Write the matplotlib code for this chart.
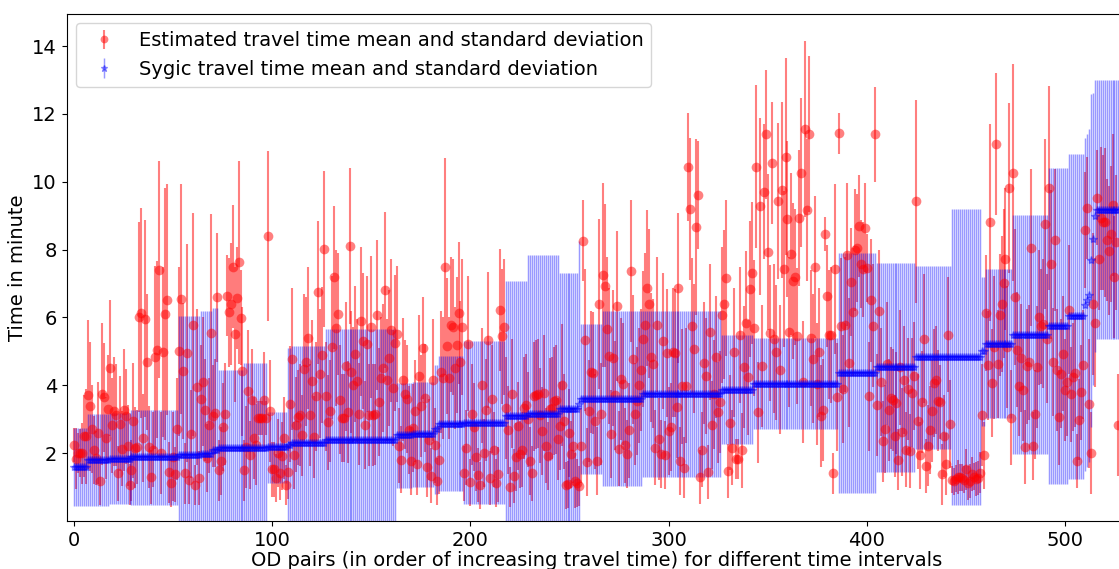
import numpy as np
import matplotlib
matplotlib.use("Agg")
import matplotlib.pyplot as plt

# estimated travel time per OD pair (mean, std)
est_mean = [
    2.25, 1.83, 2.0, 2.0, 2.0, 2.5, 2.5, 3.72, 3.38, 2.71,
    2.1, 1.86, 2.6, 1.17, 3.75, 3.64, 2.45, 3.3, 4.5, 2.82,
    3.23, 3.12, 1.4, 2.86, 2.13, 3.28, 3.09, 2.22, 1.07, 1.5,
    2.96, 2.16, 2.18, 6.0, 6.13, 2.45, 5.96, 4.68, 2.18, 1.3,
    2.1, 4.82, 5.05, 7.4, 2.0, 4.98, 6.1, 6.52, 1.44, 1.12,
    1.9, 1.37, 2.71, 5.0, 6.54, 4.43, 1.4, 4.95, 1.2, 2.56,
    5.79, 1.06, 3.94, 1.27, 3.6, 4.1, 3.26, 1.86, 2.82, 5.54,
    3.09, 3.18, 6.6, 1.5, 1.76, 2.77, 3.15, 6.64, 6.15, 6.4,
    7.5, 5.5, 6.57, 7.62, 5.99, 4.41, 1.5, 2.18, 3.82, 1.94,
    3.58, 2.45, 2.25, 3.04, 3.04, 3.04, 3.58, 3.04, 8.4, 3.24,
    1.52, 1.52, 1.27, 2.0, 1.42, 1.91, 2.45, 1.06, 1.44, 3.45,
    4.78, 1.93, 2.84, 3.06, 3.12, 2.52, 4.49, 4.7, 5.39, 3.12,
    4.12, 2.48, 3.67, 6.74, 4.34, 4.9, 8.01, 3.67, 2.91, 3.24,
    5.12, 7.18, 5.69, 6.1, 3.58, 3.04, 3.04, 4.56, 3.21, 8.11,
    4.38, 4.02, 4.92, 4.14, 3.15, 5.88, 5.3, 2.84, 5.22, 3.12,
    5.72, 3.12, 3.14, 6.07, 3.51, 4.22, 4.51, 6.8, 4.15, 4.8,
    5.62, 3.92, 5.25, 5.52, 2.22, 1.81, 4.17, 3.73, 3.6, 2.69,
    1.78, 2.75, 3.24, 1.68, 4.28, 3.38, 5.1, 3.62, 1.6, 2.4,
    1.34, 4.15, 2.23, 1.17, 1.79, 4.38, 4.22, 7.5, 5.15, 4.22,
    5.79, 5.72, 4.51, 5.18, 6.13, 4.69, 5.71, 1.4, 2.16, 5.23,
    1.14, 3.14, 2.76, 1.89, 1.35, 1.05, 4.0, 2.0, 3.28, 5.34,
    1.27, 3.6, 2.1, 1.12, 1.37, 6.22, 5.44, 5.71, 3.33, 2.69,
    1.0, 3.75, 1.32, 1.88, 2.81, 1.96, 2.1, 3.33, 3.43, 3.0,
    1.76, 1.4, 3.67, 3.72, 3.75, 3.12, 2.66, 3.77, 2.22, 1.91,
    3.3, 3.33, 3.53, 3.58, 2.42, 2.79, 4.02, 2.94, 1.05, 1.08,
    2.6, 1.96, 2.22, 1.19, 1.12, 1.03, 2.22, 8.26, 5.34, 1.73,
    3.24, 4.38, 4.36, 2.94, 1.76, 6.4, 3.15, 7.25, 6.94, 5.67,
    4.87, 2.57, 4.8, 3.7, 6.34, 2.13, 4.19, 4.05, 2.23, 1.98,
    2.67, 7.37, 4.76, 3.15, 3.53, 4.0, 4.44, 5.36, 5.79, 6.87,
    6.4, 4.82, 4.63, 2.16, 5.79, 2.42, 1.98, 5.3, 1.94, 4.95,
    2.65, 2.77, 4.97, 4.95, 3.35, 6.87, 1.78, 3.97, 1.57, 3.99,
    10.43, 9.2, 5.76, 5.08, 8.66, 9.61, 1.29, 2.1, 4.66, 4.27,
    1.45, 5.56, 2.82, 3.73, 4.83, 3.2, 3.5, 6.08, 6.39, 7.16,
    1.47, 2.89, 2.16, 4.97, 1.83, 1.83, 5.49, 2.08, 4.53, 5.85,
    4.23, 6.84, 7.31, 5.69, 10.44, 3.2, 9.27, 4.56, 9.71, 11.4,
    7.92, 5.54, 10.54, 5.37, 4.97, 9.43, 4.46, 9.76, 7.43, 10.74,
    8.89, 5.57, 7.87, 7.08, 7.2, 5.46, 8.92, 10.27, 4.09, 11.55,
    9.17, 11.4, 5.39, 4.78, 7.48, 4.04, 4.97, 3.09, 3.26, 8.46,
    6.62, 5.49, 5.49, 1.4, 7.42, 3.66, 11.43, 5.76, 3.89, 5.79,
    7.85, 4.66, 7.04, 6.16, 7.99, 8.04, 8.7, 7.58, 7.42, 8.65,
    7.45, 3.67, 6.5, 5.76, 11.4, 3.41, 6.2, 4.1, 2.35, 2.71,
    4.64, 3.26, 3.63, 3.56, 2.5, 3.48, 1.81, 4.53, 2.63, 4.15,
    2.1, 3.9, 2.06, 3.78, 4.27, 9.42, 2.94, 1.93, 3.51, 5.37,
    1.61, 2.22, 2.67, 3.24, 4.07, 4.15, 3.55, 3.51, 1.37, 2.5,
    1.68, 5.49, 2.86, 1.22, 1.17, 1.24, 1.3, 1.29, 1.27, 1.22,
    1.52, 1.12, 1.19, 1.39, 1.3, 1.24, 1.27, 1.42, 3.12, 1.93,
    6.13, 4.59, 8.8, 4.07, 5.12, 11.11, 4.63, 6.08, 6.39, 7.01,
    7.72, 5.12, 9.81, 3.04, 10.27, 6.6, 5.05, 3.99, 4.8, 3.87,
    2.18, 4.56, 4.68, 8.06, 2.22, 3.14, 4.53, 6.0, 5.74, 5.82,
    8.76, 5.37, 9.81, 7.57, 4.68, 8.28, 4.44, 3.06, 4.34, 4.93,
    3.87, 4.1, 6.23, 3.73, 4.24, 4.36, 1.76, 2.99, 3.8, 4.61,
    8.58, 9.22, 3.46, 2.0, 6.39, 5.85, 9.53, 7.72, 8.92, 8.8,
    8.8, 8.27, 7.96, 8.46, 9.32, 7.19, 8.21, 2.82,
]

est_std = [
    0.5, 0.9, 0.6, 0.7, 0.9, 1.2, 1.4, 2.2, 1.9, 1.3,
    1.0, 0.8, 1.5, 0.7, 2.1, 1.6, 1.2, 1.6, 2.0, 1.4,
    1.6, 1.5, 0.8, 1.4, 1.1, 1.8, 1.4, 1.2, 0.6, 0.9,
    1.7, 1.2, 1.1, 2.8, 3.1, 1.3, 2.9, 2.0, 1.2, 0.8,
    1.1, 2.7, 2.6, 3.2, 1.2, 2.5, 3.7, 3.4, 0.9, 0.7,
    1.3, 0.8, 1.5, 2.5, 3.4, 2.0, 0.9, 3.2, 0.7, 1.3,
    3.3, 0.6, 2.3, 0.8, 1.6, 1.9, 1.5, 1.0, 1.4, 3.5,
    1.5, 1.6, 1.9, 0.9, 1.0, 1.3, 1.5, 1.2, 1.6, 1.8,
    1.8, 2.0, 1.5, 3.0, 1.4, 1.9, 0.9, 1.2, 1.8, 1.0,
    1.5, 1.2, 1.2, 0.5, 0.5, 0.5, 1.4, 0.5, 2.5, 1.5,
    0.8, 0.8, 0.7, 1.0, 0.8, 1.0, 1.2, 0.6, 0.8, 1.7,
    2.1, 1.0, 1.4, 1.4, 1.5, 1.2, 2.2, 1.9, 2.1, 1.5,
    1.8, 1.2, 1.6, 2.1, 1.9, 2.0, 2.3, 1.6, 1.4, 1.5,
    2.1, 2.1, 2.3, 1.8, 1.6, 1.3, 1.3, 1.9, 1.5, 2.3,
    1.8, 1.7, 2.0, 1.8, 1.5, 2.2, 2.0, 1.3, 2.0, 1.5,
    2.1, 1.5, 1.5, 2.2, 1.6, 1.8, 1.9, 2.3, 1.8, 2.0,
    2.1, 1.7, 2.0, 2.0, 1.1, 1.0, 1.8, 1.6, 1.6, 1.3,
    1.0, 1.3, 1.5, 0.9, 1.8, 1.5, 1.5, 1.6, 0.9, 1.2,
    0.8, 1.8, 1.1, 0.7, 1.0, 1.8, 1.8, 3.2, 2.0, 1.8,
    2.0, 2.0, 1.8, 2.0, 2.1, 1.8, 2.0, 0.8, 1.1, 2.0,
    0.7, 1.5, 1.3, 1.0, 0.8, 0.7, 1.7, 1.0, 1.5, 2.0,
    0.8, 1.6, 1.1, 0.7, 0.8, 1.8, 2.0, 2.0, 1.5, 1.3,
    0.6, 1.6, 0.8, 1.0, 1.3, 1.0, 1.1, 1.5, 1.5, 1.4,
    1.0, 0.8, 1.6, 1.6, 1.6, 1.4, 1.3, 1.7, 1.1, 1.0,
    1.5, 1.5, 1.6, 1.6, 1.2, 1.3, 1.8, 1.4, 0.7, 0.7,
    1.3, 1.0, 1.1, 0.8, 0.7, 0.6, 1.1, 1.2, 2.1, 1.0,
    1.5, 1.8, 1.8, 1.4, 1.0, 2.5, 1.5, 2.7, 2.4, 2.1,
    2.0, 1.3, 2.0, 1.6, 2.2, 1.1, 1.8, 1.8, 1.1, 1.0,
    1.4, 2.1, 1.9, 1.5, 1.6, 1.7, 1.8, 2.0, 2.1, 2.3,
    2.2, 1.9, 1.9, 1.1, 2.0, 1.2, 1.0, 2.0, 1.0, 1.9,
    1.3, 1.3, 1.9, 1.9, 1.5, 2.2, 1.0, 1.7, 0.9, 1.7,
    1.6, 2.1, 2.0, 1.9, 2.6, 1.6, 0.8, 1.1, 1.8, 1.7,
    0.8, 2.0, 1.3, 1.6, 1.8, 1.5, 1.5, 2.0, 2.2, 2.3,
    0.8, 1.4, 1.1, 1.9, 0.6, 0.6, 2.0, 1.1, 1.8, 2.1,
    1.7, 2.0, 2.1, 2.0, 2.4, 1.5, 2.6, 1.8, 2.0, 1.9,
    2.3, 2.0, 1.8, 2.2, 2.0, 2.3, 1.9, 2.6, 2.3, 2.9,
    2.3, 2.2, 2.4, 2.3, 2.0, 2.0, 2.0, 2.2, 1.8, 2.6,
    2.1, 2.3, 2.0, 1.9, 2.1, 1.8, 1.9, 1.5, 1.5, 0.5,
    1.5, 1.9, 2.0, 0.6, 2.5, 1.6, 0.6, 2.0, 1.6, 2.0,
    2.1, 1.9, 1.6, 1.9, 1.8, 1.6, 1.5, 1.3, 1.4, 1.3,
    1.0, 1.6, 1.8, 1.8, 1.4, 1.5, 1.8, 1.6, 1.2, 1.3,
    1.8, 1.5, 1.5, 1.5, 1.2, 1.5, 0.9, 1.7, 1.3, 1.6,
    1.1, 1.5, 1.1, 1.6, 1.6, 3.0, 1.4, 1.0, 1.5, 1.9,
    0.8, 1.2, 1.3, 1.5, 1.6, 1.6, 1.5, 1.1, 0.9, 1.2,
    0.9, 1.7, 1.3, 0.4, 0.4, 0.4, 0.5, 0.4, 0.4, 0.4,
    0.6, 0.5, 0.5, 0.5, 0.4, 0.5, 0.5, 0.6, 1.5, 1.0,
    1.7, 1.6, 2.9, 1.6, 2.1, 2.1, 1.6, 1.8, 2.0, 2.2,
    2.1, 1.8, 2.5, 1.4, 3.2, 2.0, 1.7, 1.5, 1.6, 1.5,
    1.1, 1.7, 1.7, 2.3, 1.0, 1.3, 1.8, 2.0, 1.7, 1.9,
    2.5, 1.9, 3.0, 2.2, 1.6, 2.1, 1.8, 1.4, 1.6, 1.7,
    1.5, 1.6, 1.9, 1.4, 1.6, 1.6, 0.8, 1.2, 1.4, 1.6,
    1.7, 1.5, 1.9, 1.2, 2.1, 1.9, 1.4, 1.5, 2.1, 2.0,
    2.2, 1.8, 1.9, 2.0, 2.1, 1.8, 2.0, 1.5,
]

# Sygic travel time: step levels, each starting at an OD index
sygic_start = [0, 7, 18, 29, 53, 64, 70, 73, 86, 98,
               108, 110, 127, 163, 171, 182, 184, 197, 218, 229,
               245, 255, 256, 267, 287, 327, 343, 386, 405, 425,
               443, 458, 460, 474, 492, 502, 510, 511, 512, 513,
               514, 515, 516]
sygic_level = [1.6, 1.79, 1.84, 1.88, 1.95, 1.98, 2.08, 2.15, 2.15, 2.17,
               2.23, 2.3, 2.38, 2.52, 2.55, 2.7, 2.87, 2.9, 3.1, 3.15,
               3.3, 3.45, 3.6, 3.6, 3.74, 3.87, 4.05, 4.36, 4.53, 4.83,
               4.83, 5.0, 5.23, 5.49, 5.75, 6.03, 6.38, 6.5, 6.65, 7.68,
               8.3, 8.99, 9.18]
sygic_sd = [1.15, 1.35, 1.35, 1.4, 4.1, 4.2, 4.2, 2.3, 2.5, 1.05,
            2.87, 2.87, 3.28, 1.55, 1.55, 1.9, 1.98, 2.4, 3.96, 4.7,
            4.0, 4.8, 2.22, 2.58, 2.45, 1.6, 1.33, 3.55, 3.08, 2.7,
            4.37, 2.2, 2.2, 3.53, 4.66, 4.8, 4.9, 4.9, 4.9, 4.9,
            4.3, 4.0, 3.83]

n = len(est_mean)
x = np.arange(n)
counts = np.diff(sygic_start + [n])
sygic_mean = np.repeat(sygic_level, counts)
sygic_std = np.repeat(sygic_sd, counts)

fig = plt.figure(figsize=(11.19, 5.69), dpi=100)
# axes run just past the right edge of the figure (the original is cropped there)
ax = fig.add_axes([0.0596, 0.0844, 0.947, 0.8914])

ax.errorbar(x, est_mean, yerr=est_std, fmt='o', color='red', alpha=0.5,
            markersize=7, markeredgewidth=0, elinewidth=1.5,
            label='Estimated travel time mean and standard deviation')
ax.errorbar(x, sygic_mean, yerr=sygic_std, fmt='*', color='blue', alpha=0.4,
            markersize=6, elinewidth=1.05,
            label='Sygic travel time mean and standard deviation')

ax.set_xlim(-3.7, 531)
ax.set_ylim(0, 14.95)
ax.set_yticks([2, 4, 6, 8, 10, 12, 14])
ax.set_xticks([0, 100, 200, 300, 400, 500])
ax.tick_params(labelsize=14)
ax.set_xlabel('OD pairs (in order of increasing travel time) for different time intervals',
              fontsize=14, labelpad=1)
ax.set_ylabel('Time in minute', fontsize=14)
ax.legend(loc='upper left', fontsize=14, markerscale=0.8)

fig.savefig('out.png', dpi=100)
